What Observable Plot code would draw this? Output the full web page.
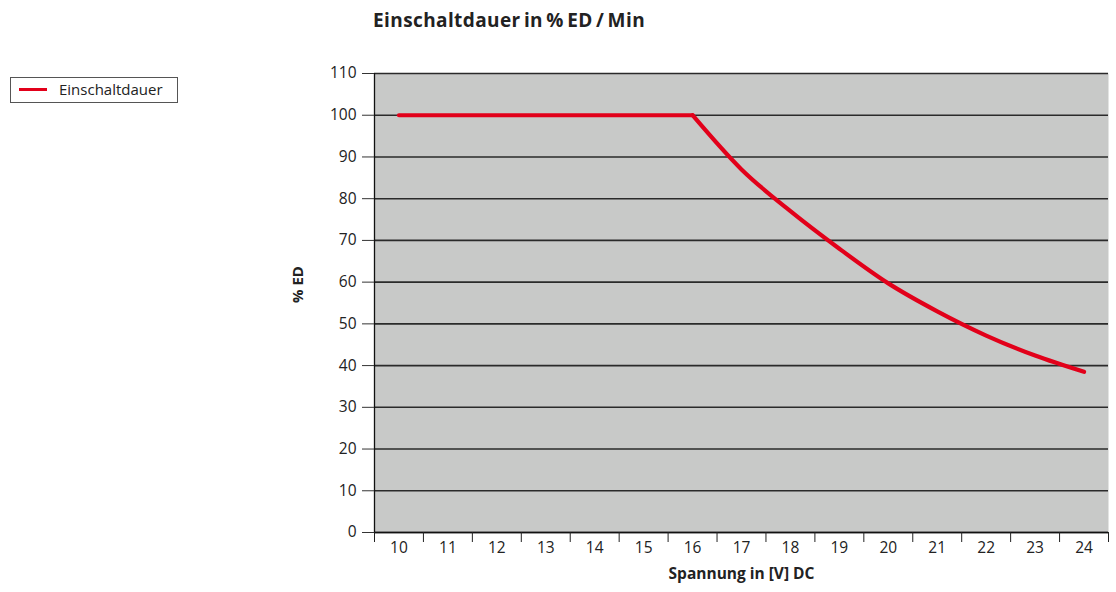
<!DOCTYPE html>
<html>
<head>
<meta charset="utf-8">
<script src="https://cdn.jsdelivr.net/npm/d3@7"></script>
<script src="https://cdn.jsdelivr.net/npm/@observablehq/plot@0.6"></script>
<style>
  body { margin: 0; background: #fff; font-family: "Open Sans", Lato, sans-serif; }
  #wrap { position: relative; width: 1116px; height: 592px; overflow: hidden; }
  #title { position: absolute; left: 373px; top: 7px; font-size: 19px; letter-spacing: 0.4px; font-weight: bold; color: #222; white-space: nowrap; word-spacing: -2px; }
  #legend { position: absolute; left: 10px; top: 77px; width: 168px; height: 26px; border: 1px solid #555; box-sizing: border-box; background: #fff; }
  #legend .sw { position: absolute; left: 8px; top: 10px; width: 28px; height: 3px; background: #e2001a; }
  #legend .lb { position: absolute; left: 48px; top: 1px; font-size: 15px; color: #222; }
  #chart { position: absolute; left: 0; top: 0; }
</style>
</head>
<body>
<div id="wrap">
  <div id="chart"></div>
  <div id="title">Einschaltdauer in % ED / Min</div>
  <div id="legend"><div class="sw"></div><div class="lb">Einschaltdauer</div></div>
</div>
<script>
const categories = [10, 11, 12, 13, 14, 15, 16, 17, 18, 19, 20, 21, 22, 23, 24];
const einschaltdauer = [100, 100, 100, 100, 100, 100, 100, 87, 77, 68, 59.7, 53, 47.2, 42.4, 38.5];
const yTicks = [0, 10, 20, 30, 40, 50, 60, 70, 80, 90, 100, 110];
const bandEdges = [9.5, 10.5, 11.5, 12.5, 13.5, 14.5, 15.5, 16.5, 17.5, 18.5, 19.5, 20.5, 21.5, 22.5, 23.5, 24.5];

const rows = categories.map((v, i) => ({v, ed: einschaltdauer[i]}));
const flat = rows.filter(d => d.v <= 16);
const curved = rows.filter(d => d.v >= 16);
const red = "#e2001a";

const plot = Plot.plot({
  width: 1116,
  height: 592,
  marginTop: 73,
  marginBottom: 60,
  marginLeft: 374,
  marginRight: 8,
  style: {fontFamily: "'Open Sans', Lato, sans-serif", fontSize: "15px", color: "#222", background: "transparent"},
  x: {domain: [9.5, 24.5]},
  y: {domain: [0, 110]},
  marks: [
    Plot.frame({fill: "#c8c9c8", stroke: null}),
    Plot.gridY(yTicks, {stroke: "#2a2a2a", strokeOpacity: 1, strokeWidth: 1.6}),
    Plot.ruleX([9.5], {stroke: "#111", strokeWidth: 1.3}),
    Plot.ruleY([0], {stroke: "#111", strokeWidth: 1.6}),
    Plot.axisY(yTicks, {tickSize: 12, tickPadding: 6, label: null, stroke: "#333", fontSize: 15.5, fill: "#222"}),
    Plot.axisX(bandEdges, {tickSize: 10, tickFormat: () => "", label: null, stroke: "#222"}),
    Plot.axisX(categories, {tickSize: 0, tickPadding: 9, label: null, fontSize: 15.5, fill: "#222"}),
    Plot.line(flat, {x: "v", y: "ed", stroke: red, strokeWidth: 4.2, curve: "linear"}),
    Plot.line(curved, {x: "v", y: "ed", stroke: red, strokeWidth: 4.2, curve: "monotone-x"}),
    Plot.text(["% ED"], {frameAnchor: "left", dx: -76, rotate: -90, fontWeight: "bold", fontSize: 15, fill: "#222"}),
    Plot.text(["Spannung in [V] DC"], {frameAnchor: "bottom", dy: 46, fontWeight: "bold", fontSize: 15.5, fill: "#222"})
  ]
});
document.getElementById("chart").appendChild(plot);
</script>
</body>
</html>
